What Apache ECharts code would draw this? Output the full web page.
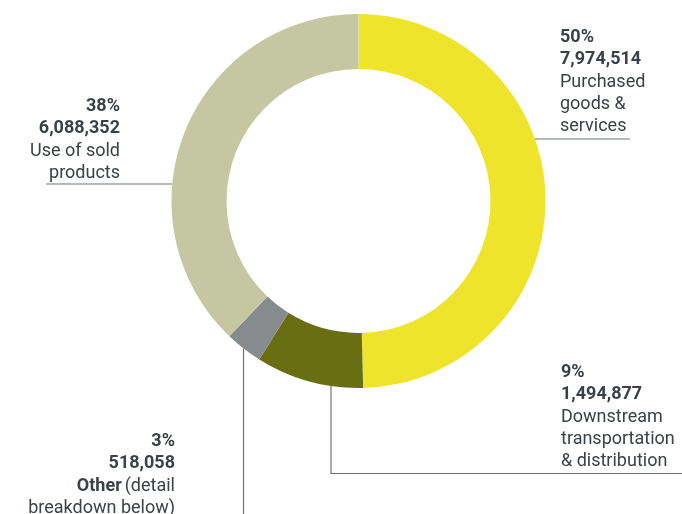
<!DOCTYPE html>
<html>
<head>
<meta charset="utf-8">
<style>
  html, body { margin: 0; padding: 0; background: #ffffff; }
  #chart { width: 682px; height: 514px; }
</style>
<script src="https://cdn.jsdelivr.net/npm/echarts@6/dist/echarts.min.js"></script>
</head>
<body>
<div id="chart"></div>
<script>
// Scope 3 emissions by category (slices run clockwise from 12 o'clock)
const categories = ['Purchased goods & services', 'Downstream transportation & distribution', 'Other', 'Use of sold products'];
const values = [7974514, 1494877, 518058, 6088352];
// Wrapped caption for each category; the first token marked bold where needed
const captionLines = [
  ['{n|Purchased}', '{n|goods &}', '{n|services}'],
  ['{n|Downstream}', '{n|transportation}', '{n|& distribution}'],
  ['{b|Other} {n|(detail}', '{n|breakdown below)}'],
  ['{n|Use of sold}', '{n|products}']
];
const sliceColors = ['#EEE42B', '#6A6E13', '#878B8E', '#C5C6A2'];

const total = values.reduce((a, b) => a + b, 0);

// Label placement: anchor, alignment and leader-line path for each slice
const cx = 358.5, cy = 201, rOuter = 187, rInner = 132;
function edgeAtY(y, side) { return cx + side * Math.sqrt(rOuter * rOuter - (y - cy) * (y - cy)); }
function edgeAtX(x) { return cy + Math.sqrt(rOuter * rOuter - (x - cx) * (x - cx)); }
const labelPlacement = [
  { x: 560, y: 26, align: 'left',
    line: [[edgeAtY(139, 1), 139], [580, 139], [630, 139]] },
  { x: 561, y: 361, align: 'left',
    line: [[331, edgeAtX(331)], [331, 473.5], [682, 473.5]] },
  { x: 175, y: 430, align: 'right',
    line: [[243.5, edgeAtX(243.5)], [243.5, 480], [243.5, 514]] },
  { x: 120, y: 95, align: 'right',
    line: [[46, 184], [110, 184], [edgeAtY(184, -1), 184]] }
];

const textColor = '#3B4146';
const chart = echarts.init(document.getElementById('chart'), null, { renderer: 'canvas' });
chart.setOption({
  backgroundColor: '#ffffff',
  animation: false,
  series: [{
    type: 'pie',
    center: [cx, cy],
    radius: [rInner, rOuter],
    startAngle: 90,
    clockwise: true,
    avoidLabelOverlap: false,
    itemStyle: { borderWidth: 0 },
    emphasis: { disabled: true },
    data: categories.map((name, i) => ({
      name: name,
      value: values[i],
      itemStyle: { color: sliceColors[i] }
    })),
    label: {
      show: true,
      position: 'outside',
      fontFamily: 'Roboto',
      color: textColor,
      formatter: function (p) {
        const pct = Math.round(p.value / total * 100) + '%';
        const num = p.value.toLocaleString('en-US');
        return ['{b|' + pct + '}', '{b|' + num + '}'].concat(captionLines[p.dataIndex]).join('\n');
      },
      rich: {
        b: { fontFamily: 'Roboto', fontSize: 18, fontWeight: 'bold', color: textColor, lineHeight: 22.4 },
        n: { fontFamily: 'Roboto', fontSize: 18, fontWeight: 'normal', color: textColor, lineHeight: 22.4 }
      }
    },
    labelLine: {
      show: true,
      smooth: false,
      lineStyle: { color: '#6E7479', width: 1.2 }
    },
    labelLayout: function (params) {
      const p = labelPlacement[params.dataIndex];
      return {
        x: p.x,
        y: p.y,
        align: p.align,
        verticalAlign: 'top',
        hideOverlap: false,
        labelLinePoints: p.line
      };
    }
  }]
});
</script>
</body>
</html>
